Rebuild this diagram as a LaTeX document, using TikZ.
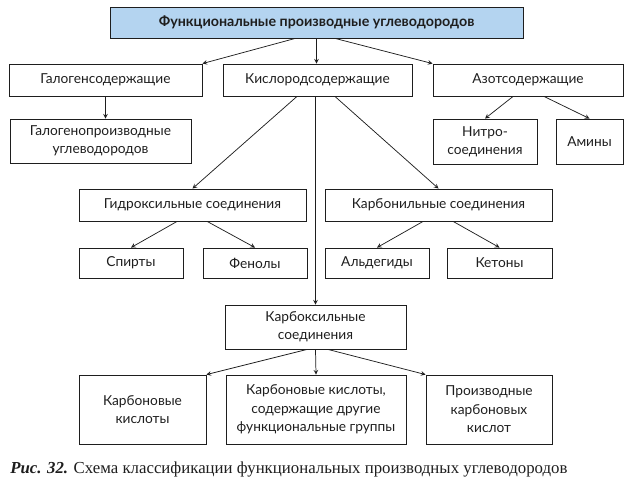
\documentclass[tikz,border=0pt]{standalone}
\usepackage{fontspec}
\setmainfont{Lato}
\newfontfamily\capfont{Liberation Serif}
\definecolor{headblue}{RGB}{180,212,240}
\definecolor{inkgray}{RGB}{30,30,30}
\tikzset{
  bw/.style={minimum width=#1*0.75pt},
  bh/.style={minimum height=#1*0.75pt},
  pbox/.style={draw=inkgray, line width=0.65pt, inner sep=1pt, align=center,
    text=inkgray, font=\fontsize{10.3}{13.8}\selectfont},
  link/.style={->, inkgray, line width=0.55pt}
}
\begin{document}
\begin{tikzpicture}[x=0.75pt, y=-0.75pt, >=stealth]
    \useasboundingbox (0,0) rectangle (631,490);

    % Head of the scheme
    \node[pbox, fill=headblue, bw=413, bh=31, font=\fontsize{10.7}{13}\selectfont\bfseries] (top) at (316.5,22.5) {Функциональные производные углеводородов};

    % First level
    \node[pbox, bw=193, bh=32] (halo) at (105.5,80) {Галогенсодержащие};
    \node[pbox, bw=189, bh=32] (oxy) at (317.5,80) {Кислородсодержащие};
    \node[pbox, bw=190, bh=32] (azot) at (528,80) {Азотсодержащие};

    % Halogen and nitrogen branches
    \node[pbox, bw=181, bh=44] (haloderiv) at (100.5,141) {Галогенопроизводные\\углеводородов};
    \node[pbox, bw=104, bh=45] (nitro) at (485,141.5) {Нитро-\\соединения};
    \node[pbox, bw=67, bh=45] (amines) at (589.5,141.5) {Амины};

    % Oxygen branch
    \node[pbox, bw=227, bh=32] (hydroxy) at (192.5,205) {Гидроксильные соединения};
    \node[pbox, bw=227, bh=32] (carbonyl) at (438.5,205) {Карбонильные соединения};
    \node[pbox, bw=104, bh=30] (alcohols) at (131,263) {Спирты};
    \node[pbox, bw=104, bh=30] (phenols) at (255,263) {Фенолы};
    \node[pbox, bw=104, bh=30] (aldehydes) at (377,263) {Альдегиды};
    \node[pbox, bw=105, bh=30] (ketones) at (499.5,263) {Кетоны};
    \node[pbox, bw=181, bh=44] (carboxyl) at (315.5,327) {Карбоксильные\\соединения};
    \node[pbox, bw=127, bh=69] (acids) at (142.5,409.5) {Карбоновые\\кислоты};
    \node[pbox, bw=180, bh=69] (acidsfg) at (316,409.5) {Карбоновые кислоты,\\содержащие другие\\функциональные группы};
    \node[pbox, bw=126, bh=69] (acidderiv) at (489,409.5) {Производные\\карбоновых\\кислот};

    % Connectors
    \draw[link] ([xshift=-16pt]top.south) -- (halo.north east);
    \draw[link] (top.south) -- (top.south |- oxy.north);
    \draw[link] ([xshift=14pt]top.south) -- (azot.north west);
    \draw[link] (halo.south) -- (halo.south |- haloderiv.north);
    \draw[link] ([xshift=-11.2pt]azot.south) -- (nitro.north);
    \draw[link] ([xshift=12pt]azot.south) -- (amines.north);
    \draw[link] ([xshift=-15.4pt]oxy.south) -- (hydroxy.north);
    \draw[link] (oxy.south -| carboxyl.north) -- (carboxyl.north);
    \draw[link] ([xshift=13.1pt]oxy.south) -- (carbonyl.north);
    \draw[link] ([xshift=-11.6pt]hydroxy.south) -- (alcohols.north);
    \draw[link] ([xshift=11pt]hydroxy.south) -- (phenols.north);
    \draw[link] ([xshift=-11.6pt]carbonyl.south) -- (aldehydes.north);
    \draw[link] ([xshift=11pt]carbonyl.south) -- (ketones.north);
    \draw[link] ([xshift=-6.4pt]carboxyl.south) -- (acids.north east);
    \draw[link] (carboxyl.south) -- (acidsfg.north);
    \draw[link] ([xshift=9.4pt]carboxyl.south) -- (acidderiv.north west);

    % Caption
    \node[anchor=base west, inner sep=0pt, text=inkgray, font=\capfont\fontsize{12.6}{14}\selectfont] (caption) at (10,473) {\textbf{\textit{Рис. 32.}} Схема классификации функциональных производных углеводородов};
\end{tikzpicture}
\end{document}
